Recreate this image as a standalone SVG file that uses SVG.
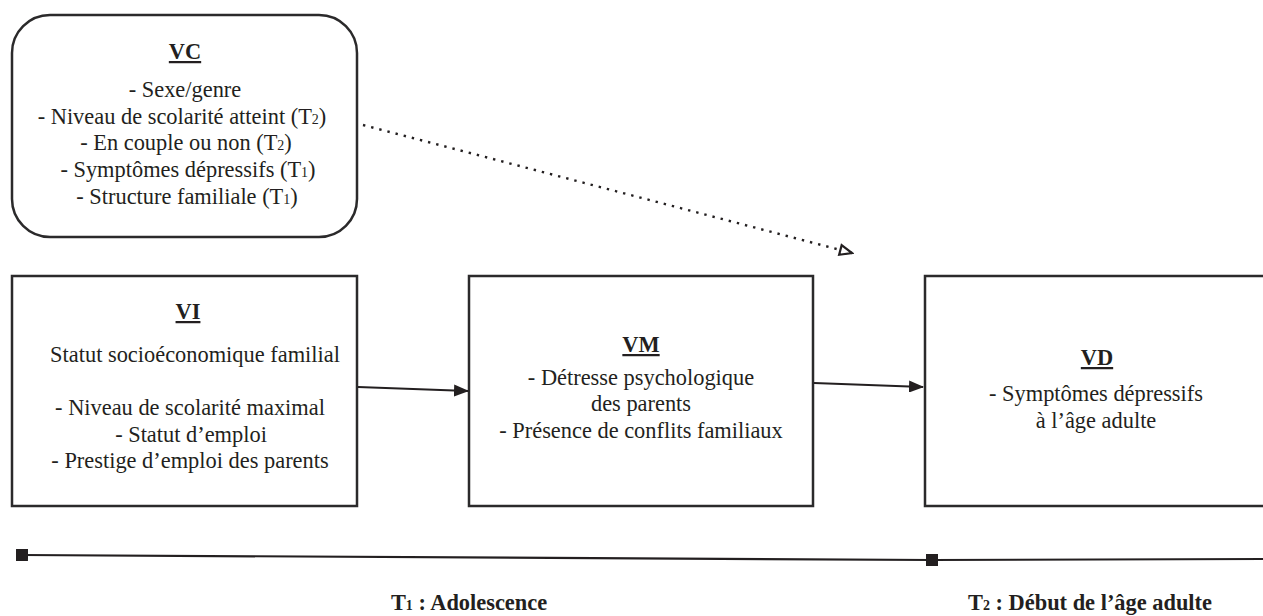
<svg xmlns="http://www.w3.org/2000/svg" width="1263" height="616" viewBox="0 0 1263 616">
<style>
  .box { fill: #ffffff; stroke: #2b2a2b; stroke-width: 2.5; }
  .t { font-family: "Liberation Serif", "Times New Roman", serif; font-size: 22.4px; fill: #231f20; text-anchor: middle; }
  .h { font-weight: bold; text-decoration: underline; }
  .b { font-weight: bold; }
  .sub { font-size: 14px; }
  .conn { stroke: #231f20; stroke-width: 2.2; fill: none; }
  .dot { stroke: #231f20; stroke-width: 2.4; fill: none; stroke-dasharray: 2.4 6; }
</style>
<defs>
  <marker id="arrowFill" viewBox="0 0 15 12" refX="14" refY="6" markerWidth="15" markerHeight="12" markerUnits="userSpaceOnUse" orient="auto">
    <path d="M0,0 L15,6 L0,12 Z" fill="#231f20"/>
  </marker>
  <marker id="arrowOpen" viewBox="0 0 16 14" refX="14" refY="7" markerWidth="16" markerHeight="14" markerUnits="userSpaceOnUse" orient="auto">
    <path d="M2,2 L14,7 L2,12 Z" fill="#ffffff" stroke="#231f20" stroke-width="2.2"/>
  </marker>
  <marker id="sq" viewBox="0 0 12 12" refX="6" refY="6" markerWidth="12" markerHeight="12" markerUnits="userSpaceOnUse" orient="auto">
    <rect x="0" y="0" width="12" height="12" fill="#231f20"/>
  </marker>
</defs>
<rect width="1263" height="616" fill="#ffffff"/>

<g id="VC">
  <rect class="box" x="12" y="15" width="345" height="222" rx="38" ry="38"/>
  <text class="t h" x="185" y="59">VC</text>
  <text class="t" x="185" y="97">- Sexe/genre</text>
  <text class="t" x="182" y="124">- Niveau de scolarité atteint (T<tspan class="sub">2</tspan>)</text>
  <text class="t" x="186" y="150">- En couple ou non (T<tspan class="sub">2</tspan>)</text>
  <text class="t" x="188" y="177">- Symptômes dépressifs (T<tspan class="sub">1</tspan>)</text>
  <text class="t" x="187" y="204">- Structure familiale (T<tspan class="sub">1</tspan>)</text>
</g>

<g id="VI">
  <rect class="box" x="12" y="276" width="345" height="230"/>
  <text class="t h" x="188" y="319">VI</text>
  <text class="t" x="195" y="362">Statut socioéconomique familial</text>
  <text class="t" x="190" y="415">- Niveau de scolarité maximal</text>
  <text class="t" x="191" y="442">- Statut d’emploi</text>
  <text class="t" x="190" y="468">- Prestige d’emploi des parents</text>
</g>

<g id="VM">
  <rect class="box" x="469" y="276" width="344" height="230"/>
  <text class="t h" x="641" y="352">VM</text>
  <text class="t" x="641" y="385">- Détresse psychologique</text>
  <text class="t" x="641" y="411">des parents</text>
  <text class="t" x="641" y="438">- Présence de conflits familiaux</text>
</g>

<g id="VD">
  <rect class="box" x="925" y="276" width="360" height="230"/>
  <text class="t h" x="1097" y="365">VD</text>
  <text class="t" x="1096" y="401">- Symptômes dépressifs</text>
  <text class="t" x="1096" y="428">à l’âge adulte</text>
</g>

<g id="connectors">
  <line class="conn" x1="358" y1="387" x2="468" y2="391" marker-end="url(#arrowFill)"/>
  <line class="conn" x1="814" y1="383" x2="923" y2="387" marker-end="url(#arrowFill)"/>
  <line class="dot" x1="363" y1="125" x2="852" y2="253" marker-end="url(#arrowOpen)"/>
</g>

<g id="timeline">
  <line class="conn" x1="22" y1="555" x2="932" y2="560" marker-start="url(#sq)"/>
  <line class="conn" x1="932" y1="560" x2="1263" y2="559" marker-start="url(#sq)"/>
  <text class="t b" x="469" y="610">T<tspan class="sub">1</tspan> : Adolescence</text>
  <text class="t b" x="1090" y="610">T<tspan class="sub">2</tspan> : Début de l’âge adulte</text>
</g>
</svg>
